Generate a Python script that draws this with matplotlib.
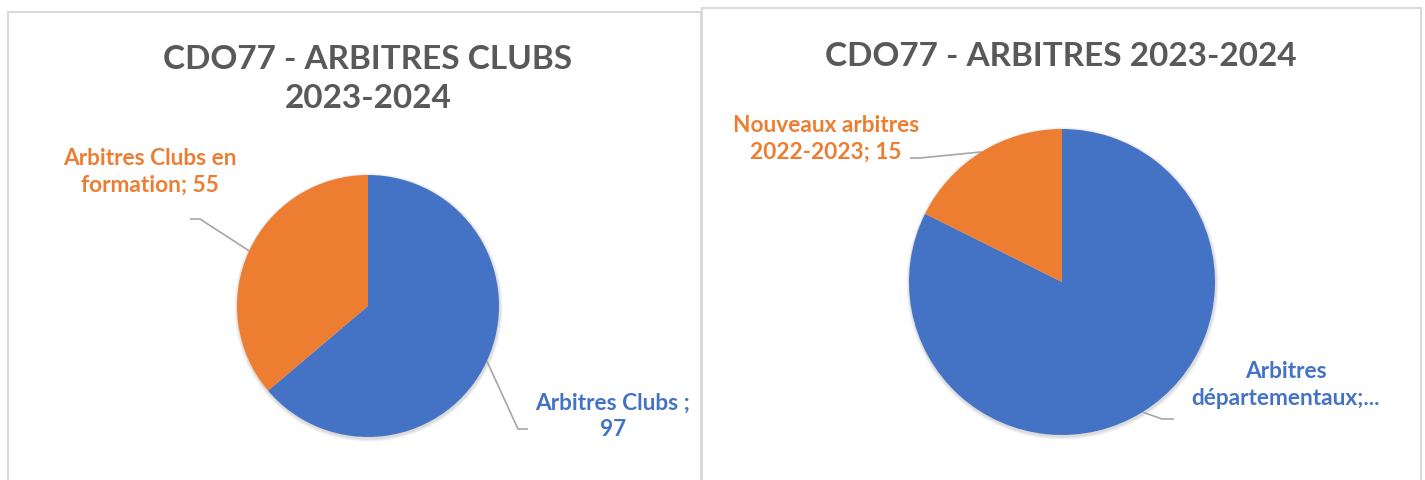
import numpy as np
import matplotlib.pyplot as plt
from matplotlib.patches import Rectangle, Circle

# data
left_labels = ["Arbitres Clubs ;\n97", "Arbitres Clubs en\nformation; 55"]
left_values = [97, 55]
right_labels = ["Arbitres\ndépartementaux;...", "Nouveaux arbitres\n2022-2023; 15"]
right_values = [70, 15]
left_title = "CDO77 - ARBITRES CLUBS\n2023-2024"
right_title = "CDO77 - ARBITRES 2023-2024"

colors = ["#4472C4", "#ED7D31"]
title_color = "#595959"
leader_color = "#A6A6A6"
font = "Lato"

W, H = 1425, 481
fig = plt.figure(figsize=(W / 100, H / 100), dpi=100)
ax = fig.add_axes([0, 0, 1, 1])

def Y(y):
    # image-pixel y (top down) -> axes y
    return H - y

# panel frames
ax.add_patch(Rectangle((8, Y(490)), 693, 490 - 13, fill=False, ec="#D9D9D9", lw=1.5))
ax.add_patch(Rectangle((702, Y(490)), 719, 490 - 9, fill=False, ec="#D9D9D9", lw=1.5))

def draw_pie(values, labels, center, radius, label_pos, leaders):
    # soft shadow under the pie
    for k in range(1, 5):
        ax.add_patch(Circle((center[0] + 0.5, Y(center[1]) - 1.5), radius + k * 0.8,
                            color="black", alpha=0.035, lw=0, zorder=0.5))
    wedges, _ = ax.pie(values, colors=colors, startangle=90, counterclock=False,
                       center=(center[0], Y(center[1])), radius=radius,
                       wedgeprops=dict(linewidth=0, zorder=1))
    for w, lab, (tx, ty), (elbow, end), c in zip(wedges, labels, label_pos, leaders, colors):
        mid = np.deg2rad((w.theta1 + w.theta2) / 2)
        px = center[0] + radius * np.cos(mid)
        py = Y(center[1]) + radius * np.sin(mid)
        ax.plot([px, elbow[0], end[0]], [py, Y(elbow[1]), Y(end[1])],
                color=leader_color, lw=1.2, solid_capstyle="butt", zorder=0.8)
        ax.text(tx, Y(ty), lab, ha="center", va="center", color=c,
                fontsize=16.3, fontweight="bold", family=font, linespacing=1.3)

draw_pie(left_values, left_labels, (368, 307), 131,
         [(613, 416), (150, 172)],
         [((518, 430), (528, 430)), ((200, 220), (190, 220))])
draw_pie(right_values, right_labels, (1062, 283), 153,
         [(1286, 385), (826, 139)],
         [((1162, 420), (1174, 420)), ((920, 159), (910, 159))])

ax.text(368, Y(79), left_title, ha="center", va="center", color=title_color,
        fontsize=24, fontweight="bold", family=font, linespacing=1.4)
ax.text(1061, Y(56), right_title, ha="center", va="center", color=title_color,
        fontsize=24, fontweight="bold", family=font)

ax.set_xlim(0, W)
ax.set_ylim(0, H)
ax.set_aspect("equal")
ax.axis("off")

fig.savefig("out.png", dpi=100)
